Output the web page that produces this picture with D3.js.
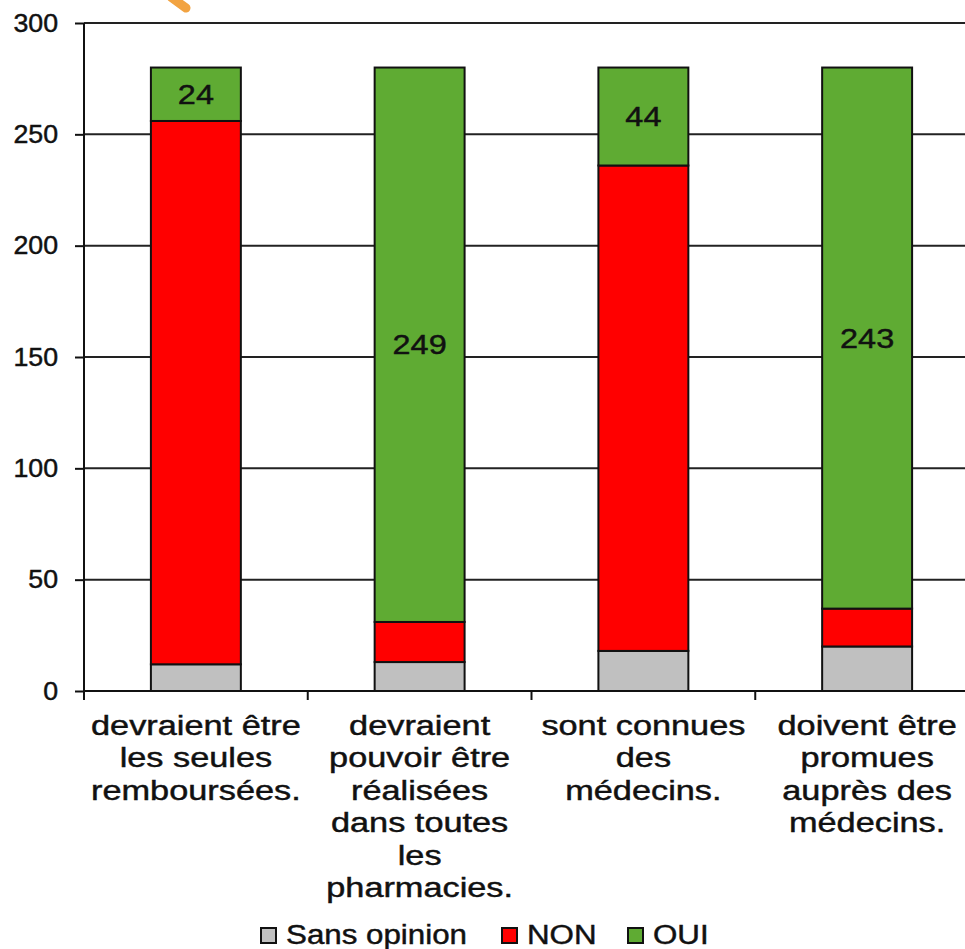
<!DOCTYPE html>
<html>
<head>
<meta charset="utf-8">
<script src="https://cdn.jsdelivr.net/npm/d3@7"></script>
<style>
  body { margin: 0; background: #fff; }
  svg { display: block; font-family: "Liberation Sans", Arial, sans-serif; }
  text { stroke: #111; stroke-width: 0.45px; }
</style>
</head>
<body>
<svg id="chart" width="965" height="949"></svg>
<script>
// categories (multi-line labels) and stacked values
const categories = [
    ["devraient être", "les seules", "remboursées."],
    ["devraient", "pouvoir être", "réalisées", "dans toutes", "les", "pharmacies."],
    ["sont connues", "des", "médecins."],
    ["doivent être", "promues", "auprès des", "médecins."]
]
const sansOpinion = [12, 13, 18, 20]
const non = [244, 18, 218, 17]
const oui = [24, 249, 44, 243]
const seriesNames = ["Sans opinion", "NON", "OUI"]
const yTicks = [0, 50, 100, 150, 200, 250, 300]

const colors = { "Sans opinion": "#c0c0c0", "NON": "#ff0000", "OUI": "#5fab33" }

const svg = d3.select('#chart')
const margin = ({ top: 23, right: -14, bottom: 258, left: 84 })
const width = 965, height = 949

const rows = categories.map((c, i) => ({
    key: i, "Sans opinion": sansOpinion[i], "NON": non[i], "OUI": oui[i]
}))

const x = d3.scaleBand()
    .domain(rows.map(d => d.key))
    .range([margin.left, width - margin.right])
    .paddingInner(0.598)
    .paddingOuter(0.299)

const y = d3.scaleLinear()
    .domain([0, 300])
    .range([height - margin.bottom, margin.top])

const stack = d3.stack().keys(seriesNames)(rows)

// little orange watermark fragment at the top
svg.append("line")
    .attr("x1", 171).attr("y1", -3).attr("x2", 186).attr("y2", 8)
    .attr("stroke", "#f2a341").attr("stroke-width", 9).attr("stroke-linecap", "round")

// gridlines
svg.append("g")
    .selectAll("line")
    .data(yTicks.slice(1))
    .join("line")
        .attr("x1", margin.left)
        .attr("x2", width)
        .attr("y1", d => y(d))
        .attr("y2", d => y(d))
        .attr("stroke", "#222")
        .attr("stroke-width", 2)

// y axis
const yAxis = g => g
    .attr('transform', `translate(${margin.left},0)`)
    .call(d3.axisLeft(y).tickValues(yTicks).tickSize(9).tickPadding(0))
    .call(g => g.select(".domain").attr("stroke", "#111").attr("stroke-width", 2)
        .attr("d", `M0,${y(300)}V${y(0)}`))
    .call(g => g.selectAll(".tick line").attr("stroke", "#111").attr("stroke-width", 2))
    .call(g => g.selectAll(".tick text").attr("fill", "#111")
        .attr("x", null)
        .attr("font-size", 25).attr("font-family", "Liberation Sans, Arial, sans-serif")
        .attr("transform", "translate(-26,0) scale(1.07,1)"))
svg.append('g').call(yAxis)

// bars
svg.append("g")
    .selectAll("g")
    .data(stack)
    .join("g")
        .attr("fill", s => colors[s.key])
    .selectAll("rect")
    .data(s => s)
    .join("rect")
        .attr("x", d => x(d.data.key))
        .attr("width", x.bandwidth())
        .attr("y", d => y(d[1]))
        .attr("height", d => y(d[0]) - y(d[1]))
        .attr("stroke", "#111")
        .attr("stroke-width", 2)

// value labels on the OUI segments
const ouiLayer = stack.find(s => s.key === "OUI")
svg.append("g")
    .selectAll("text")
    .data(ouiLayer)
    .join("text")
        .attr("transform", d => `translate(${x(d.data.key) + x.bandwidth() / 2},${y((d[0] + d[1]) / 2)}) scale(1.2,1)`)
        .attr("dy", "0.36em")
        .attr("text-anchor", "middle")
        .attr("font-size", 27)
        .attr("fill", "#111")
        .text(d => d.data["OUI"])

// x axis line with tick marks at band boundaries
const step = x.step()
svg.append("line")
    .attr("x1", margin.left).attr("x2", width)
    .attr("y1", y(0)).attr("y2", y(0))
    .attr("stroke", "#111").attr("stroke-width", 2)
svg.append("g")
    .selectAll("line")
    .data(d3.range(categories.length))
    .join("line")
        .attr("x1", i => margin.left + i * step)
        .attr("x2", i => margin.left + i * step)
        .attr("y1", y(0))
        .attr("y2", y(0) + 9)
        .attr("stroke", "#111").attr("stroke-width", 2)

// category labels
svg.append("g")
    .selectAll("text")
    .data(categories)
    .join("text")
        .attr("text-anchor", "middle")
        .attr("font-size", 27)
        .attr("fill", "#111")
        .attr("transform", (d, i) => `translate(${x(i) + x.bandwidth() / 2},735) scale(1.27,1)`)
    .selectAll("tspan")
    .data(d => d)
    .join("tspan")
        .attr("x", 0)
        .attr("y", (d, j) => j * 32.4)
        .text(d => d)

// legend
const legendX = [261, 502, 628]
const legend = svg.append("g")
    .selectAll("g")
    .data(seriesNames)
    .join("g")
        .attr("transform", (d, i) => `translate(${legendX[i]},928)`)
legend.append("rect")
    .attr("width", 15).attr("height", 15)
    .attr("fill", d => colors[d])
    .attr("stroke", "#111").attr("stroke-width", 2)
legend.append("text")
    .attr("transform", "translate(25,16) scale(1.16,1)")
    .attr("font-size", 27)
    .attr("fill", "#111")
    .text(d => d)
</script>
</body>
</html>
